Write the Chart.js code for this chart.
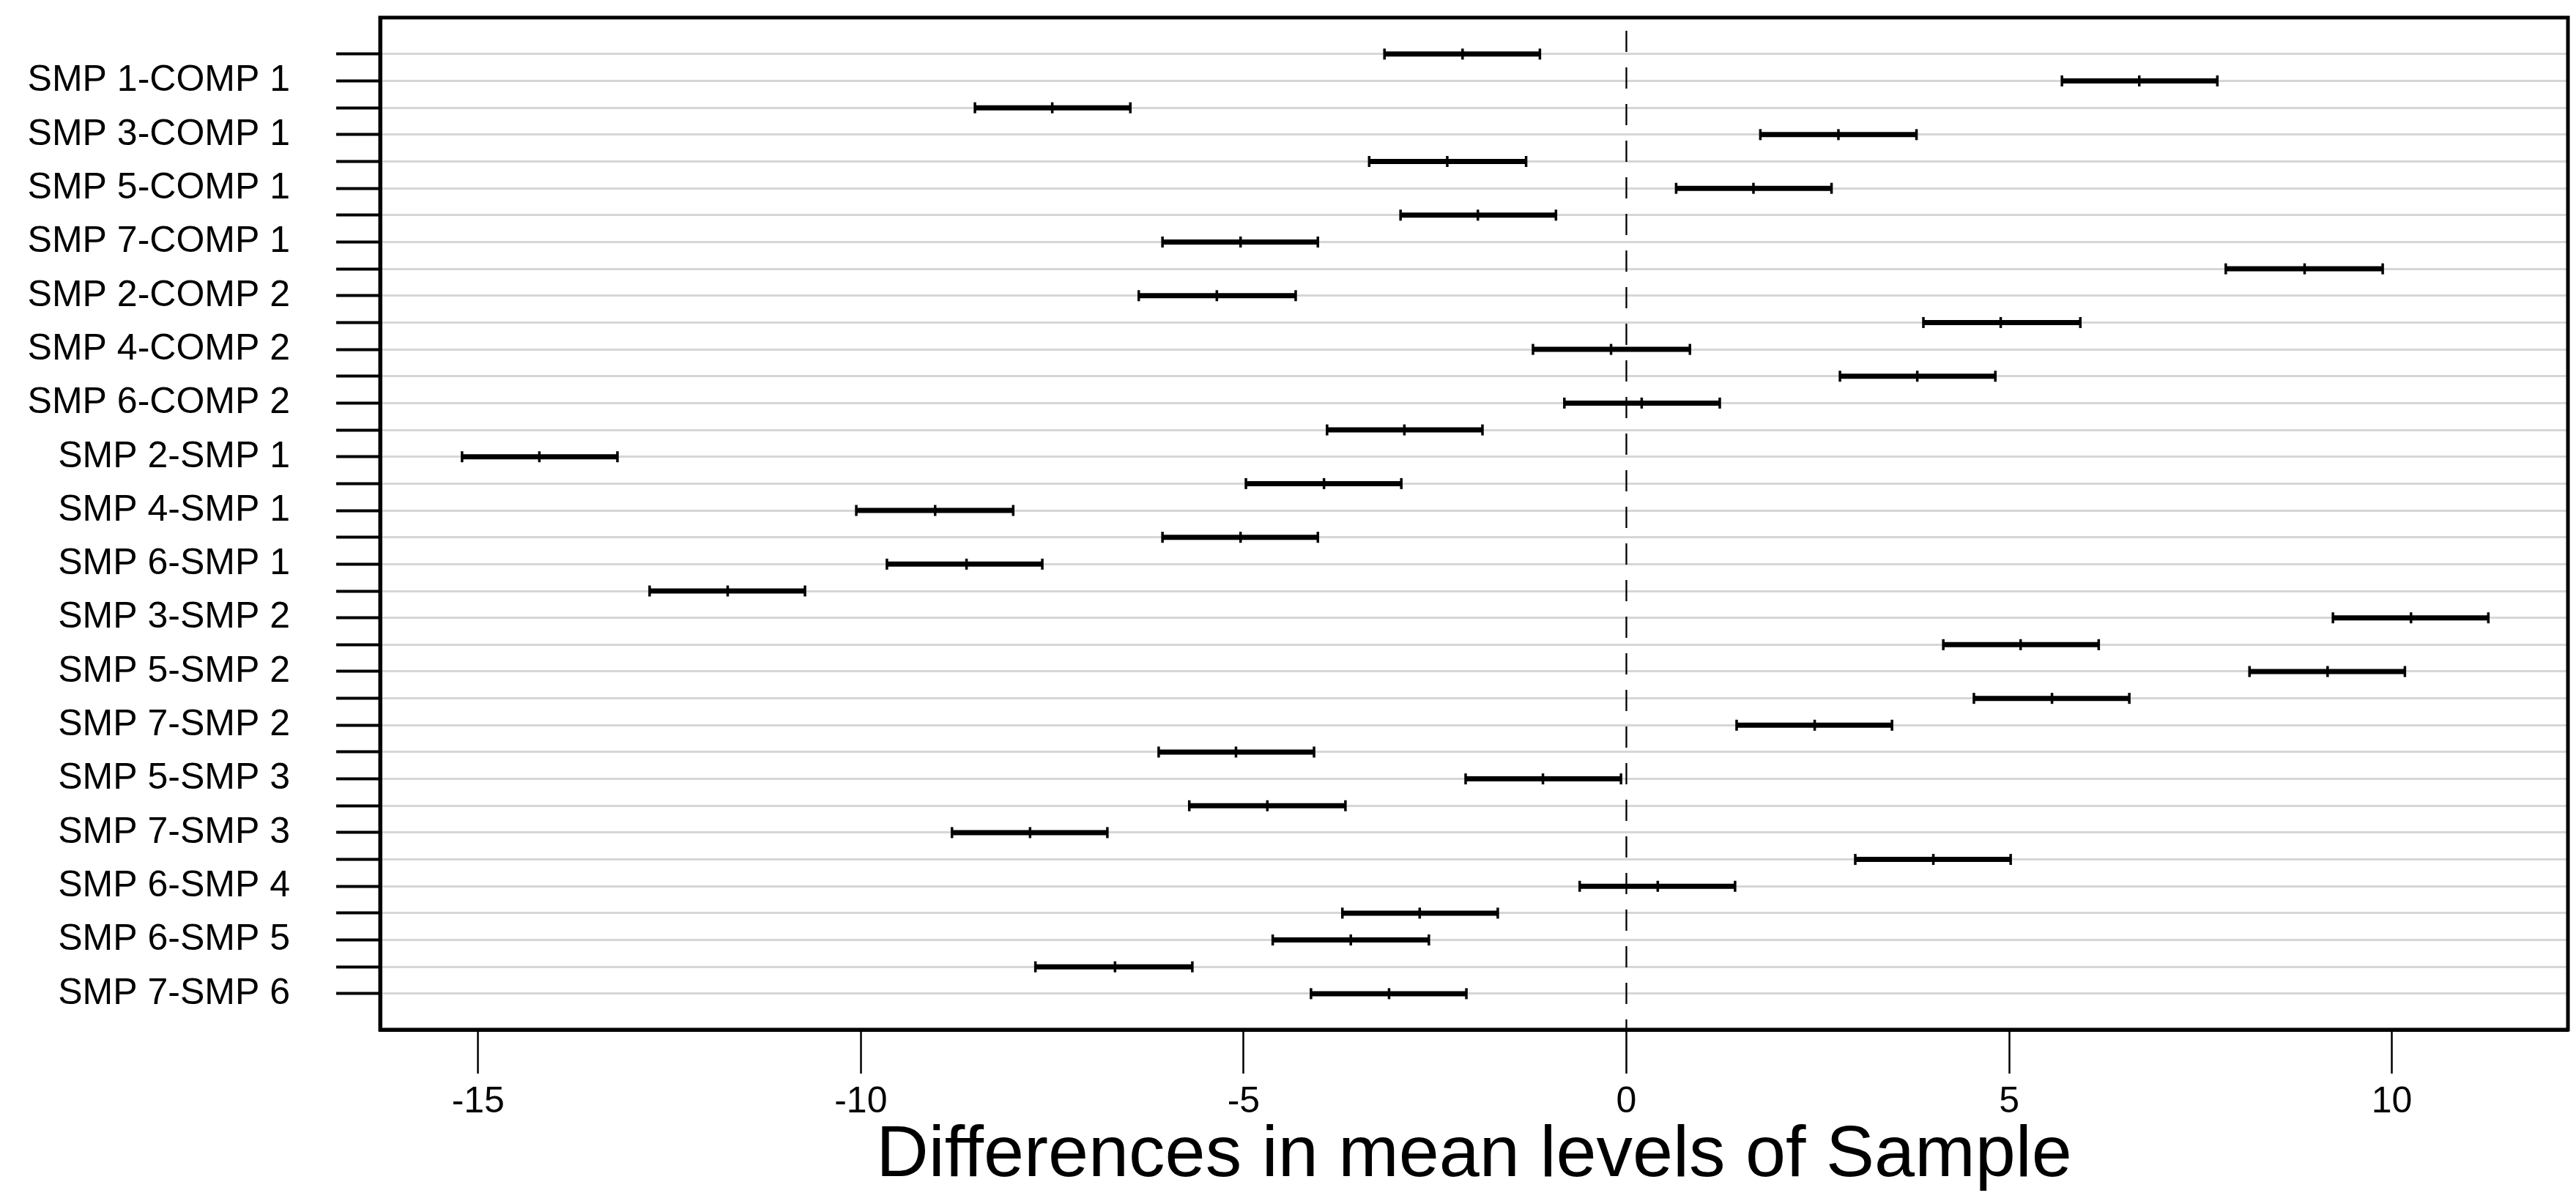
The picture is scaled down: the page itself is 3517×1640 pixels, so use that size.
<!DOCTYPE html>
<html>
<head>
<meta charset="utf-8">
<script src="https://cdn.jsdelivr.net/npm/chart.js@4.4.1/dist/chart.umd.min.js"></script>
<style>
  html, body { margin: 0; padding: 0; background: #fff; }
  #wrap { width: 3517px; height: 1640px; }
</style>
</head>
<body>
<div id="wrap"><canvas id="c" width="3517" height="1640"></canvas></div>
<script>
// ---- data ----
const comparisons = [
  "COMP 2-COMP 1", "SMP 1-COMP 1", "SMP 2-COMP 1", "SMP 3-COMP 1", "SMP 4-COMP 1",
  "SMP 5-COMP 1", "SMP 6-COMP 1", "SMP 7-COMP 1", "SMP 1-COMP 2", "SMP 2-COMP 2",
  "SMP 3-COMP 2", "SMP 4-COMP 2", "SMP 5-COMP 2", "SMP 6-COMP 2", "SMP 7-COMP 2",
  "SMP 2-SMP 1", "SMP 3-SMP 1", "SMP 4-SMP 1", "SMP 5-SMP 1", "SMP 6-SMP 1",
  "SMP 7-SMP 1", "SMP 3-SMP 2", "SMP 4-SMP 2", "SMP 5-SMP 2", "SMP 6-SMP 2",
  "SMP 7-SMP 2", "SMP 4-SMP 3", "SMP 5-SMP 3", "SMP 6-SMP 3", "SMP 7-SMP 3",
  "SMP 5-SMP 4", "SMP 6-SMP 4", "SMP 7-SMP 4", "SMP 6-SMP 5", "SMP 7-SMP 5",
  "SMP 7-SMP 6"
];
const diffs = [
  -2.14, 6.70, -7.50, 2.77, -2.34, 1.66, -1.94, -5.04, 8.86, -5.35,
  4.89, -0.20, 3.80, 0.20, -2.90, -14.20, -3.95, -9.03, -5.04, -8.62,
  -11.74, 10.25, 5.15, 9.16, 5.56, 2.46, -5.10, -1.09, -4.69, -7.79,
  4.01, 0.41, -2.70, -3.60, -6.68, -3.10
];
const lowers = [
  -3.16, 5.69, -8.51, 1.75, -3.36, 0.65, -2.95, -6.06, 7.83, -6.37,
  3.88, -1.22, 2.79, -0.81, -3.91, -15.21, -4.97, -10.06, -6.06, -9.66,
  -12.76, 9.23, 4.14, 8.14, 4.54, 1.44, -6.11, -2.10, -5.71, -8.81,
  2.99, -0.61, -3.71, -4.62, -7.72, -4.12
];
const uppers = [
  -1.13, 7.72, -6.48, 3.79, -1.31, 2.68, -0.92, -4.03, 9.88, -4.32,
  5.93, 0.83, 4.82, 1.22, -1.88, -13.18, -2.94, -8.01, -4.03, -7.63,
  -10.73, 11.26, 6.17, 10.17, 6.57, 3.47, -4.08, -0.07, -3.67, -6.78,
  5.02, 1.42, -1.68, -2.58, -5.67, -2.09
];
const xTicks = [-15, -10, -5, 0, 5, 10];
const xTitle = "Differences in mean levels of Sample";

// ---- axis extents ----
const X_MIN = -16.28, X_MAX = 12.30;
const Y_MIN = -1.36, Y_MAX = 36.34;
const FONT = "'Liberation Sans', Arial, Helvetica, sans-serif";

// ---- build datasets from the arrays ----
const rows = comparisons.map((_, i) => i);
const segPts = [];
const capPts = [];
rows.forEach(i => {
  segPts.push({x: lowers[i], y: i}, {x: uppers[i], y: i}, {x: uppers[i], y: NaN});
  capPts.push({x: lowers[i], y: i}, {x: diffs[i], y: i}, {x: uppers[i], y: i});
});

const frame = {
  id: 'frame',
  afterDatasetsDraw(chart) {
    const a = chart.chartArea, ctx = chart.ctx;
    ctx.save();
    ctx.strokeStyle = '#000';
    ctx.lineWidth = 5;
    ctx.strokeRect(a.left, a.top, a.right - a.left, a.bottom - a.top);
    ctx.restore();
  }
};

new Chart(document.getElementById('c'), {
  type: 'scatter',
  data: {
    datasets: [
      {
        label: 'zero',
        data: [{x: 0, y: Y_MIN}, {x: 0, y: Y_MAX}],
        showLine: true,
        borderColor: '#000',
        borderWidth: 2.3,
        borderDash: [29, 21],
        borderDashOffset: 32,
        pointRadius: 0,
        order: 3
      },
      {
        label: 'intervals',
        data: segPts,
        showLine: true,
        spanGaps: false,
        borderColor: '#000',
        borderWidth: 7,
        borderCapStyle: 'butt',
        pointRadius: 0,
        order: 2
      },
      {
        label: 'caps',
        data: capPts,
        showLine: false,
        pointStyle: 'line',
        rotation: 90,
        pointRadius: 7.5,
        borderColor: '#000',
        backgroundColor: '#000',
        pointBorderWidth: 3.5,
        borderWidth: 3.5,
        order: 1
      }
    ]
  },
  options: {
    responsive: false,
    devicePixelRatio: 1,
    animation: false,
    events: [],
    layout: { padding: { left: 0, top: 24, right: 5, bottom: 0 } },
    plugins: { legend: { display: false }, tooltip: { enabled: false } },
    scales: {
      x: {
        type: 'linear',
        min: X_MIN,
        max: X_MAX,
        afterBuildTicks: s => { s.ticks = xTicks.map(v => ({value: v})); },
        afterFit: s => { s.height = 234; s.paddingLeft = 0; s.paddingRight = 0; },
        ticks: {
          autoSkip: false,
          maxRotation: 0,
          padding: 14,
          color: '#000',
          font: { family: FONT, size: 50, lineHeight: 1 },
          callback: v => String(v)
        },
        grid: {
          display: true,
          drawOnChartArea: false,
          drawTicks: true,
          tickLength: 60,
          tickColor: '#000',
          tickWidth: 2.5
        },
        border: { display: true, color: '#000', width: 5 },
        title: {
          display: true,
          text: xTitle,
          color: '#000',
          font: { family: FONT, size: 99, lineHeight: 1 },
          padding: { top: 0, bottom: 12 }
        }
      },
      y: {
        type: 'linear',
        reverse: true,
        min: Y_MIN,
        max: Y_MAX,
        afterBuildTicks: s => { s.ticks = rows.map(v => ({value: v})); },
        afterFit: s => { s.width = 519; s.paddingTop = 0; s.paddingBottom = 0; },
        ticks: {
          autoSkip: false,
          padding: 63,
          color: '#000',
          font: { family: FONT, size: 50, lineHeight: 1 },
          callback: v => (v % 2 === 1 ? comparisons[v] : '')
        },
        grid: {
          display: true,
          drawOnChartArea: true,
          drawTicks: true,
          tickLength: 60,
          color: '#d6d6d6',
          lineWidth: 3,
          tickColor: '#000',
          tickWidth: 4
        },
        border: { display: true, color: '#000', width: 5 }
      }
    }
  },
  plugins: [frame]
});
</script>
</body>
</html>
